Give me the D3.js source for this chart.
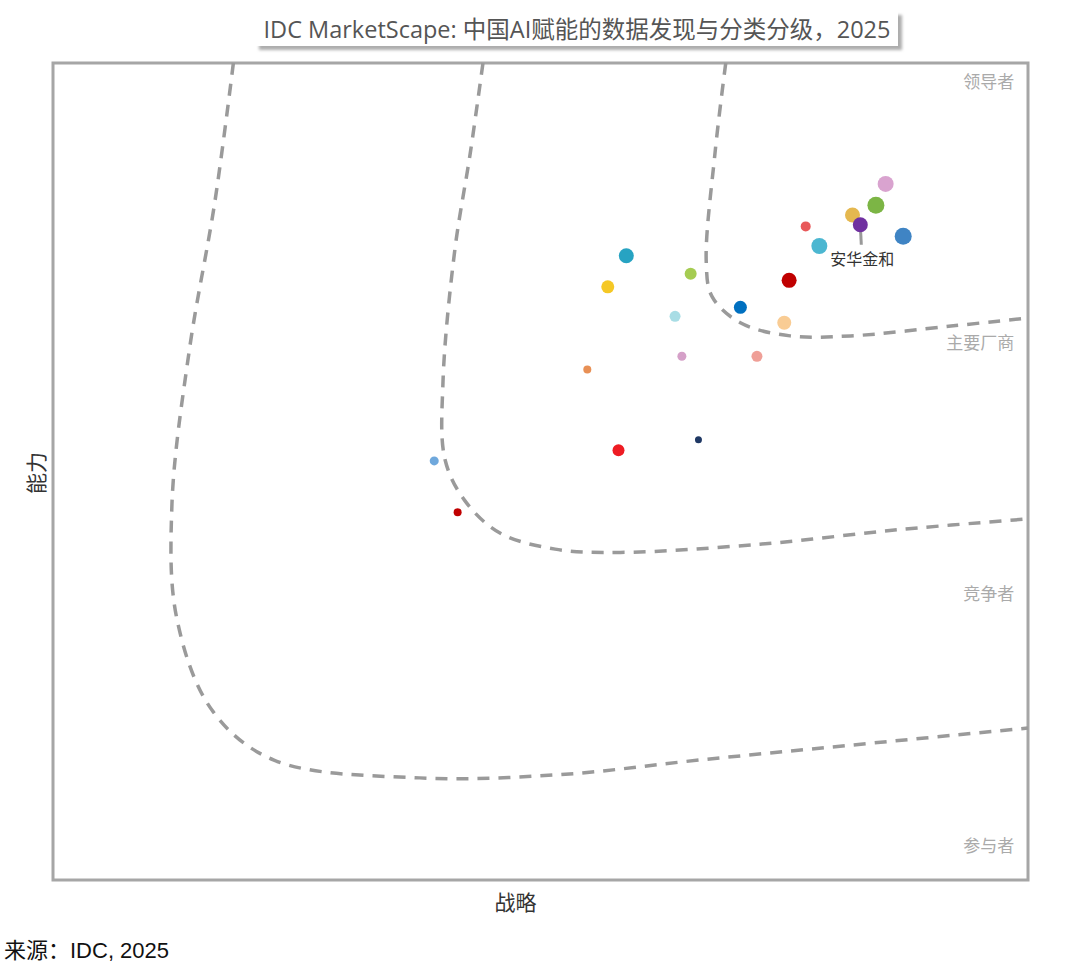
<!DOCTYPE html>
<html>
<head>
<meta charset="utf-8">
<script src="https://cdn.jsdelivr.net/npm/d3@7"></script>
<style>
body { margin: 0; background: #fff; }
</style>
</head>
<body>
<div id="chart"></div>
<script>
// vendors: strategy, capability (0-100 scale), dot size, colour
var vendorNames = ["v1", "v2", "v3", "安华金和", "v5", "v6", "v7", "v8", "v9", "v10", "v11", "v12", "v13", "v14", "v15", "v16", "v17", "v18", "v19", "v20", "v21"];
var strategyVals = [85.4, 84.4, 82.0, 82.8, 77.2, 78.6, 87.2, 75.5, 58.8, 65.4, 56.9, 70.5, 63.8, 75.0, 64.5, 72.2, 54.8, 58.0, 66.2, 39.1, 41.5];
var capabilityVals = [85.2, 82.6, 81.4, 80.2, 80.0, 77.6, 78.8, 73.4, 76.4, 74.2, 72.6, 70.1, 69.0, 68.2, 64.1, 64.1, 62.5, 52.6, 53.9, 51.3, 45.0];
var dotSizes = [8, 8.5, 7.5, 7.5, 5, 8, 8.5, 7.5, 7.5, 6, 6.5, 6.5, 5.5, 7, 4.5, 5.5, 4, 6, 3.5, 4.5, 4];
var dotColors = ["#d9a3cf", "#7cb545", "#e5b84f", "#7030a0", "#e8595a", "#4cb7d1", "#3f84c4", "#c00000", "#27a3c2", "#a5cc52", "#f5c825", "#0070c0", "#a8dde5", "#f9cc94", "#d5a0c8", "#ef9f97", "#e89055", "#ee1c23", "#1f3864", "#6fa8dc", "#c00000"];
var labeledVendor = "安华金和";

// dashed boundary curves [strategy, capability]
var curveOuter = [[18.5, 100], [16.6, 83], [14.0, 65], [12.2, 46], [12.7, 32], [16.3, 20.8], [22.6, 14.7], [37.6, 12.5], [52, 12.9], [66.4, 14.7], [81.8, 16.5], [100, 18.6]];
var curveMiddle = [[44.1, 100], [42.8, 89], [41.2, 77], [40.0, 61], [40.2, 51.5], [42.2, 46.5], [45.8, 42.5], [51.5, 40.5], [58.2, 40.1], [72.5, 41.1], [86.9, 42.9], [100, 44.2]];
var curveInner = [[69.0, 100], [67.9, 89], [67.0, 75.6], [67.6, 71.4], [70.5, 68.2], [75.6, 66.6], [81.8, 66.6], [92.1, 67.8], [100, 68.8]];

var quadLabels = ["领导者", "主要厂商", "竞争者", "参与者"];
var quadLabelY = [96.9, 65.0, 34.3, 3.4];

var w = 1080, h = 975;
var padL = 53, padT = 63, padR = 1028, padB = 880;

var svg = d3.select("#chart").append("svg").attr("width", w).attr("height", h);

var xScale = d3.scaleLinear().domain([0, 100]).range([padL, padR]);
var yScale = d3.scaleLinear().domain([0, 100]).range([padB, padT]);

var defs = svg.append("defs");
var f = defs.append("filter").attr("id", "shadow").attr("x", "-5%").attr("y", "-20%").attr("width", "115%").attr("height", "160%");
f.append("feDropShadow").attr("dx", 4).attr("dy", 4).attr("stdDeviation", 1.5).attr("flood-color", "#999").attr("flood-opacity", 0.8);

// title box
var titleText = "IDC MarketScape: 中国AI赋能的数据发现与分类分级，2025";
svg.append("rect")
    .attr("x", 255).attr("y", 11).attr("width", 643).attr("height", 35)
    .attr("fill", "#fff").attr("filter", "url(#shadow)");
svg.append("text")
    .attr("x", 577).attr("y", 38)
    .attr("text-anchor", "middle")
    .attr("font-family", "'Open Sans', 'Noto Sans CJK SC', sans-serif")
    .attr("font-size", "23.5px")
    .attr("fill", "#555")
    .text(titleText);

// plot frame
svg.append("rect")
    .attr("x", padL).attr("y", padT)
    .attr("width", padR - padL).attr("height", padB - padT)
    .attr("fill", "#fff")
    .attr("stroke", "#a6a6a6")
    .attr("stroke-width", 3);

// boundaries
var line = d3.line()
    .x(function (d) { return xScale(d[0]); })
    .y(function (d) { return yScale(d[1]); })
    .curve(d3.curveCatmullRom.alpha(0.5));

[curveOuter, curveMiddle, curveInner].forEach(function (c) {
    svg.append("path")
        .attr("d", line(c))
        .attr("fill", "none")
        .attr("stroke", "#9a9a9a")
        .attr("stroke-width", 3.5)
        .attr("stroke-dasharray", "12,9");
});

// quadrant labels
svg.selectAll(".quad")
    .data(quadLabels)
    .enter()
    .append("text")
    .attr("class", "quad")
    .attr("x", xScale(98.6))
    .attr("y", function (d, i) { return yScale(quadLabelY[i]); })
    .attr("text-anchor", "end")
    .attr("font-family", "'Noto Sans CJK SC', sans-serif")
    .attr("font-size", "17px")
    .attr("fill", "#aaa")
    .text(function (d) { return d; });

// vendors
var vendors = vendorNames.map(function (n, i) {
    return { name: n, x: strategyVals[i], y: capabilityVals[i], r: dotSizes[i], color: dotColors[i] };
});

var lv = vendors.filter(function (d) { return d.name === labeledVendor; })[0];
svg.append("line")
    .attr("x1", xScale(lv.x)).attr("y1", yScale(lv.y))
    .attr("x2", xScale(lv.x) + 1).attr("y2", yScale(lv.y) + 20)
    .attr("stroke", "#999").attr("stroke-width", 3);

svg.selectAll(".dot")
    .data(vendors)
    .enter()
    .append("circle")
    .attr("class", "dot")
    .attr("cx", function (d) { return xScale(d.x); })
    .attr("cy", function (d) { return yScale(d.y); })
    .attr("r", function (d) { return d.r; })
    .attr("fill", function (d) { return d.color; });

svg.append("text")
    .attr("x", xScale(lv.x) + 2).attr("y", yScale(lv.y) + 40)
    .attr("text-anchor", "middle")
    .attr("font-family", "'Noto Sans CJK SC', sans-serif")
    .attr("font-size", "16px")
    .attr("fill", "#333")
    .text(labeledVendor);

// axis titles
svg.append("text")
    .attr("x", (padL + padR) / 2 - 25).attr("y", 910)
    .attr("text-anchor", "middle")
    .attr("font-family", "'Noto Sans CJK SC', sans-serif")
    .attr("font-size", "21px")
    .attr("fill", "#333")
    .text("战略");

svg.append("text")
    .attr("transform", "translate(44," + 473 + ") rotate(-90)")
    .attr("text-anchor", "middle")
    .attr("font-family", "'Noto Sans CJK SC', sans-serif")
    .attr("font-size", "21px")
    .attr("fill", "#333")
    .text("能力");

// source
svg.append("text")
    .attr("x", 4).attr("y", 958)
    .attr("font-family", "'Liberation Sans', 'Noto Sans CJK SC', sans-serif")
    .attr("font-size", "22px")
    .attr("fill", "#111")
    .text("来源：IDC, 2025");
</script>
</body>
</html>
